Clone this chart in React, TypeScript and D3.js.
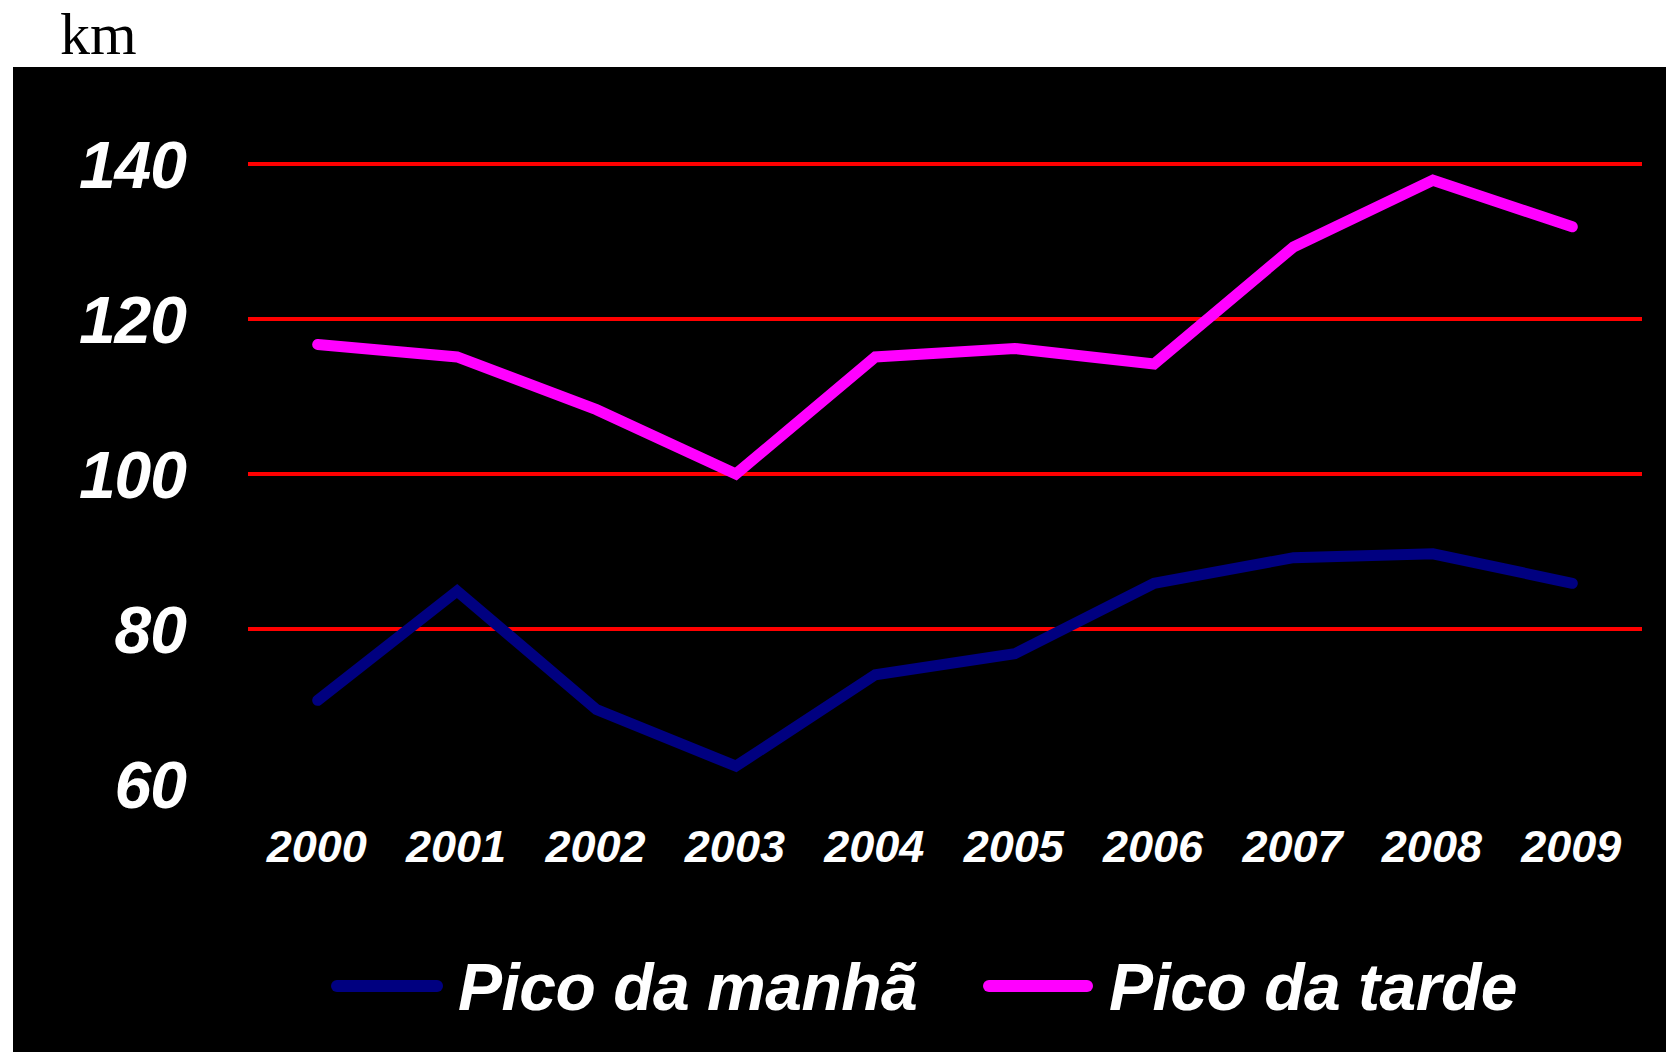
import React from "react";
import * as d3 from "d3";

const years = ["2000", "2001", "2002", "2003", "2004", "2005", "2006", "2007", "2008", "2009"];
const picoManha = [70.8, 84.9, 69.6, 62.3, 74.1, 76.8, 85.9, 89.2, 89.7, 85.9];
const picoTarde = [116.7, 115.1, 108.3, 100.0, 115.1, 116.2, 114.2, 129.3, 137.9, 131.9];
const yTicks = [60, 80, 100, 120, 140];
const gridTicks = [80, 100, 120, 140];
const seriesNames = ["Pico da manhã", "Pico da tarde"];
const seriesColors = ["#000080", "#FF00FF"];

const W = 1666;
const H = 1052;

export default function App() {
  const x = d3.scalePoint<string>().domain(years).range([248, 1642]).padding(0.5);
  const y = d3.scaleLinear().domain([60, 140]).range([784, 164]);
  const line = d3
    .line<number>()
    .x((_, i) => x(years[i]) as number)
    .y((d) => y(d));
  const series = [picoManha, picoTarde];
  const font = "'Liberation Sans', Arial, sans-serif";

  const legendItems = [
    { x0: 331, x1: 443, tx: 458 },
    { x0: 983, x1: 1093, tx: 1109 },
  ];

  return (
    <svg
      width={W}
      height={H}
      style={{ position: "fixed", left: 0, top: 0, display: "block" }}
    >
      <rect x={0} y={0} width={W} height={H} fill="#ffffff" />
      <text
        x={60}
        y={54}
        fontFamily="'Liberation Serif', 'Times New Roman', serif"
        fontSize={60}
        fill="#000"
      >
        km
      </text>
      <rect x={13} y={67} width={W - 13} height={H - 67} fill="#000" />
      {gridTicks.map((t) => (
        <line
          key={t}
          x1={248}
          x2={1642}
          y1={y(t)}
          y2={y(t)}
          stroke="#FF0000"
          strokeWidth={4}
        />
      ))}
      {yTicks.map((t) => (
        <text
          key={t}
          x={186}
          y={y(t) + 24}
          textAnchor="end"
          fontFamily={font}
          fontWeight="bold"
          fontStyle="italic"
          fontSize={66}
          letterSpacing={-1}
          fill="#fff"
        >
          {t}
        </text>
      ))}
      {years.map((yr) => (
        <text
          key={yr}
          x={(x(yr) as number) - 1}
          y={862}
          textAnchor="middle"
          fontFamily={font}
          fontWeight="bold"
          fontStyle="italic"
          fontSize={45}
          fill="#fff"
        >
          {yr}
        </text>
      ))}
      {series.map((s, i) => (
        <path
          key={i}
          d={line(s) || ""}
          fill="none"
          stroke={seriesColors[i]}
          strokeWidth={11}
          strokeLinecap="round"
          strokeLinejoin="miter"
        />
      ))}
      {legendItems.map((it, i) => (
        <g key={i}>
          <line
            x1={it.x0 + 6}
            x2={it.x1 - 6}
            y1={986}
            y2={986}
            stroke={seriesColors[i]}
            strokeWidth={12}
            strokeLinecap="round"
          />
          <text
            x={it.tx}
            y={1010}
            fontFamily={font}
            fontWeight="bold"
            fontStyle="italic"
            fontSize={66}
            letterSpacing={-0.5}
            fill="#fff"
          >
            {seriesNames[i]}
          </text>
        </g>
      ))}
    </svg>
  );
}
